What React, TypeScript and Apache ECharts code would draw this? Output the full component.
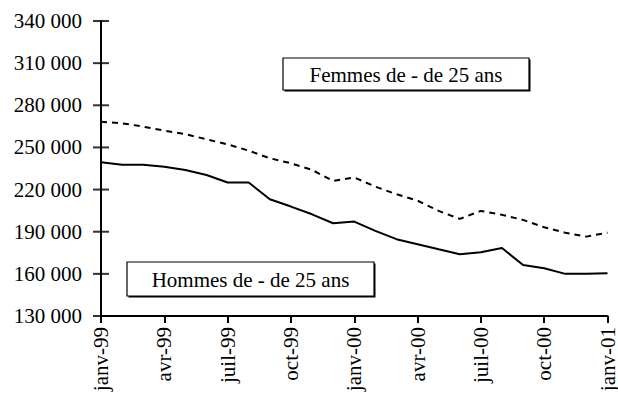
import React, { useEffect, useRef } from "react";
import * as echarts from "echarts";

const months = [
  "janv-99", "févr-99", "mars-99", "avr-99", "mai-99", "juin-99", "juil-99", "août-99", "sept-99", "oct-99", "nov-99", "déc-99",
  "janv-00", "févr-00", "mars-00", "avr-00", "mai-00", "juin-00", "juil-00", "août-00", "sept-00", "oct-00", "nov-00", "déc-00",
  "janv-01",
];
const femmes = [
  268300, 267200, 264800, 262000, 259400, 255800, 252200, 247700, 242300, 238700, 234000, 226100,
  228600, 222100, 216700, 212100, 204800, 199100, 204800, 202000, 198400, 193200, 189300, 186500,
  189300,
];
const hommes = [
  239400, 237700, 237700, 236300, 234000, 230400, 225000, 225000, 213100, 207900, 202400, 196000,
  197200, 190600, 184700, 181100, 177500, 174000, 175400, 178400, 166300, 164000, 160000, 160000,
  160400,
];
const yTicks = [130000, 160000, 190000, 220000, 250000, 280000, 310000, 340000];
const yMin = 130000;
const yMax = 340000;
const yStep = 30000;
const femmesLabel = "Femmes de - de 25 ans";
const hommesLabel = "Hommes de - de 25 ans";

const FONT = "Liberation Serif";

function fmt(v: number) {
  return Math.round(v / 1000) + " 000";
}

function box(x: number, y: number, w: number, h: number, label: string) {
  return {
    type: "group",
    children: [
      { type: "rect", shape: { x: x + 1.5, y: y + 1.5, width: w, height: h }, style: { fill: "#000" } },
      { type: "rect", shape: { x, y, width: w, height: h }, style: { fill: "#fff", stroke: "#000", lineWidth: 1.2 } },
      {
        type: "text",
        x: x + w / 2,
        y: y + h / 2 + 1,
        style: { text: label, fill: "#000", fontFamily: FONT, fontSize: 21, align: "center", verticalAlign: "middle" },
      },
    ],
  };
}

export default function App() {
  const ref = useRef<HTMLDivElement>(null);
  useEffect(() => {
    if (!ref.current) return;
    const chart = echarts.init(ref.current, null, { renderer: "svg" });
    chart.setOption({
      animation: false,
      backgroundColor: "#fff",
      textStyle: { fontFamily: FONT },
      grid: { left: 101, right: 5, top: 21, bottom: 84, containLabel: false },
      xAxis: {
        type: "category",
        data: months,
        boundaryGap: false,
        axisLine: { lineStyle: { color: "#000", width: 2 } },
        axisTick: { show: true, interval: 2, length: 7, lineStyle: { color: "#000", width: 2 } },
        axisLabel: {
          interval: 2,
          rotate: 90,
          margin: 11,
          color: "#000",
          fontFamily: FONT,
          fontSize: 21,
        },
      },
      yAxis: {
        type: "value",
        min: yMin,
        max: yMax,
        interval: yStep,
        splitLine: { show: false },
        axisLine: { show: true, lineStyle: { color: "#000", width: 2 } },
        axisTick: { show: false },
        axisLabel: { color: "#000", fontFamily: FONT, fontSize: 21, margin: 19, formatter: fmt },
      },
      series: [
        {
          name: femmesLabel,
          type: "line",
          data: femmes,
          symbol: "none",
          lineStyle: { color: "#000", width: 2, type: [6, 5] },
        },
        {
          name: hommesLabel,
          type: "line",
          data: hommes,
          symbol: "none",
          lineStyle: { color: "#000", width: 2 },
        },
        {
          type: "scatter",
          data: yTicks.map((v) => [0, v]),
          symbol: "rect",
          symbolSize: [16, 2],
          itemStyle: { color: "#000" },
          clip: false,
          silent: true,
          z: 5,
        },
      ],
      graphic: [box(283, 58, 246, 32, femmesLabel), box(127, 262, 247, 34, hommesLabel)],
    });
    return () => chart.dispose();
  }, []);
  return <div ref={ref} style={{ position: "fixed", left: 0, top: 0, width: 618, height: 400 }} />;
}
